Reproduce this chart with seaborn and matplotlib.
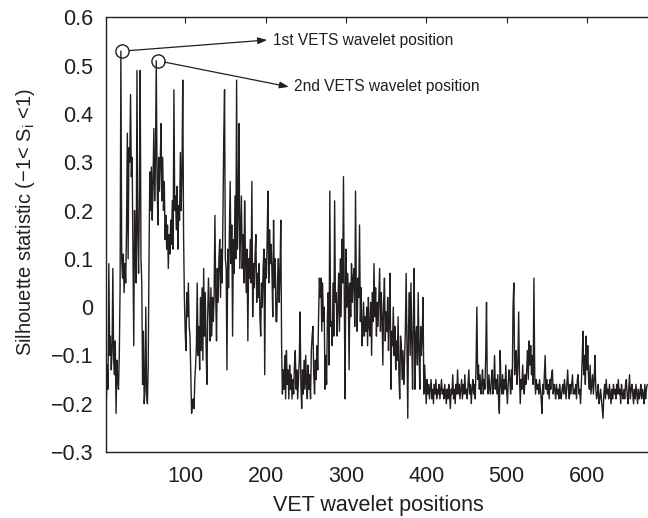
import matplotlib
matplotlib.use("Agg")
import matplotlib.pyplot as plt
import seaborn as sns
import numpy as np
import pandas as pd

# silhouette statistic per VET wavelet position (positions 1..675)
silhouette = [
    -0.15, -0.19, -0.12, -0.17, 0.09, -0.10, -0.06, -0.13, -0.09, 0.08, -0.11, -0.14, -0.07, -0.22, -0.11, -0.15, -0.17, -0.10, 0.04, 0.53, 0.10, 0.06, 0.11, 0.03, 0.09,
    0.05, 0.16, 0.36, 0.10, 0.33, 0.30, 0.44, 0.27, 0.31, 0.12, -0.08, 0.20, 0.11, 0.05, 0.49, 0.15, 0.07, 0.22, 0.49, 0.10, 0.05, -0.16, -0.05, -0.20, -0.17,
    0.00, -0.18, -0.20, -0.12, 0.10, 0.28, 0.20, 0.29, 0.18, 0.26, 0.37, 0.22, 0.30, 0.51, 0.27, 0.17, 0.31, 0.24, 0.30, 0.38, 0.22, 0.31, 0.20, 0.26, 0.14,
    0.19, 0.12, 0.17, 0.08, 0.15, 0.11, 0.18, 0.13, 0.22, 0.12, 0.45, 0.20, 0.23, 0.16, 0.25, 0.12, 0.21, 0.18, 0.32, 0.20, 0.28, 0.47, 0.15, 0.02, -0.05,
    -0.09, 0.03, -0.02, 0.05, -0.04, -0.06, -0.14, -0.22, -0.20, -0.19, -0.21, -0.15, -0.12, -0.08, 0.05, -0.10, -0.04, -0.13, 0.02, -0.09, 0.04, -0.11, 0.08, -0.06, 0.03,
    -0.08, -0.16, -0.02, 0.06, 0.00, -0.07, 0.04, -0.06, 0.02, -0.03, 0.02, 0.19, 0.03, -0.07, 0.08, 0.01, 0.10, 0.14, 0.02, 0.12, 0.05, 0.19, 0.35, 0.45, 0.10,
    0.08, -0.13, 0.12, 0.04, 0.15, 0.26, 0.09, 0.17, -0.06, 0.14, 0.07, 0.23, 0.10, 0.47, 0.12, 0.20, 0.38, 0.08, 0.16, 0.23, 0.08, 0.15, 0.05, 0.22, 0.11,
    0.03, 0.12, -0.07, 0.10, 0.06, 0.14, 0.05, 0.26, -0.02, 0.09, 0.04, 0.11, 0.15, 0.01, 0.07, 0.02, 0.09, -0.02, -0.06, 0.05, 0.00, 0.08, 0.12, -0.14, 0.10,
    0.06, 0.14, 0.24, 0.05, 0.16, 0.09, 0.13, 0.07, -0.02, 0.18, 0.04, 0.10, -0.03, -0.03, 0.06, 0.10, 0.01, 0.07, 0.18, -0.08, -0.18, -0.13, -0.17, -0.10, -0.19,
    -0.09, -0.16, -0.13, -0.19, -0.12, -0.17, -0.14, -0.19, -0.15, -0.18, -0.12, -0.09, -0.17, -0.13, -0.19, -0.15, -0.11, -0.01, -0.16, -0.21, -0.13, -0.18, -0.11, -0.17, -0.10,
    -0.16, -0.19, -0.12, -0.17, -0.14, -0.19, -0.09, -0.06, -0.04, -0.14, -0.18, -0.11, -0.15, -0.08, -0.13, -0.02, 0.06, 0.02, 0.06, -0.05, 0.05, -0.03, 0.00, -0.17, -0.10,
    -0.16, -0.02, 0.03, -0.12, 0.24, -0.04, -0.03, -0.08, 0.05, -0.06, 0.22, 0.01, 0.03, -0.06, 0.00, 0.07, -0.05, 0.10, -0.02, 0.14, 0.05, 0.27, 0.02, -0.19, 0.12,
    0.00, 0.07, 0.04, -0.13, 0.05, -0.02, 0.09, 0.01, 0.06, 0.08, -0.04, 0.24, 0.03, -0.05, 0.06, 0.02, 0.17, -0.03, 0.04, -0.08, -0.05, 0.01, -0.06, -0.02, -0.05,
    0.00, -0.08, 0.02, -0.04, -0.06, 0.01, -0.10, 0.03, -0.03, 0.09, -0.02, 0.04, -0.06, 0.01, -0.04, 0.02, 0.08, -0.05, 0.03, -0.02, -0.12, 0.01, 0.06, -0.07, -0.01,
    -0.05, 0.02, -0.09, -0.02, 0.07, -0.17, -0.05, -0.08, 0.00, -0.10, -0.04, -0.13, -0.07, -0.11, -0.02, -0.14, -0.19, -0.06, -0.08, -0.15, -0.09, -0.16, -0.11, -0.05, 0.07,
    -0.08, -0.23, -0.04, 0.03, -0.10, 0.05, -0.07, -0.17, -0.02, 0.08, -0.17, -0.06, -0.04, -0.12, 0.03, -0.09, -0.17, -0.04, -0.10, -0.06, 0.02, -0.18, -0.12, -0.16, -0.20,
    -0.15, -0.18, -0.16, -0.19, -0.17, -0.15, -0.19, -0.17, -0.20, -0.16, -0.18, -0.15, -0.19, -0.17, -0.18, -0.16, -0.19, -0.17, -0.15, -0.18, -0.17, -0.19, -0.16, -0.18, -0.20,
    -0.17, -0.19, -0.16, -0.18, -0.21, -0.17, -0.18, -0.14, -0.19, -0.17, -0.20, -0.16, -0.18, -0.13, -0.18, -0.16, -0.19, -0.17, -0.15, -0.19, -0.16, -0.18, -0.14, -0.18, -0.17,
    -0.19, -0.16, -0.13, -0.18, -0.16, -0.20, -0.17, -0.15, -0.18, -0.16, -0.19, -0.12, 0.00, -0.15, -0.12, -0.17, -0.14, -0.18, -0.16, -0.13, -0.18, -0.15, -0.17, -0.10, 0.01,
    -0.16, -0.18, -0.14, -0.17, -0.18, -0.15, -0.13, -0.18, -0.16, -0.10, -0.17, -0.15, -0.18, -0.14, -0.19, -0.22, -0.09, -0.16, -0.18, -0.14, -0.18, -0.15, -0.17, -0.12, -0.17,
    -0.20, -0.16, -0.13, -0.15, -0.18, -0.13, -0.17, 0.00, 0.05, -0.14, -0.11, -0.09, -0.16, -0.12, -0.01, -0.14, -0.20, -0.15, -0.17, -0.12, -0.16, -0.18, -0.14, -0.16, -0.13,
    -0.09, -0.15, -0.07, -0.12, -0.08, -0.14, -0.10, -0.16, 0.06, -0.14, -0.18, -0.15, -0.17, -0.16, -0.18, -0.15, -0.17, -0.19, -0.22, -0.16, -0.18, -0.14, -0.10, -0.17, -0.15,
    -0.18, -0.16, -0.19, -0.15, -0.17, -0.14, -0.13, -0.18, -0.16, -0.17, -0.19, -0.16, -0.18, -0.17, -0.19, -0.16, -0.18, -0.19, -0.17, -0.16, -0.18, -0.15, -0.17, -0.19, -0.16,
    -0.13, -0.17, -0.19, -0.16, -0.18, -0.16, -0.14, -0.18, -0.17, -0.18, -0.16, -0.19, -0.15, -0.14, -0.18, -0.17, -0.20, -0.16, -0.11, -0.05, -0.14, -0.10, -0.16, -0.06, -0.13,
    -0.08, -0.15, -0.17, -0.12, -0.18, -0.16, -0.14, -0.18, -0.15, -0.10, -0.17, -0.19, -0.18, -0.16, -0.20, -0.19, -0.17, -0.19, -0.21, -0.23, -0.18, -0.16, -0.19, -0.15, -0.18,
    -0.17, -0.19, -0.16, -0.18, -0.20, -0.17, -0.19, -0.16, -0.18, -0.17, -0.19, -0.16, -0.18, -0.15, -0.18, -0.17, -0.20, -0.16, -0.18, -0.19, -0.17, -0.19, -0.16, -0.15, -0.18,
    -0.20, -0.17, -0.14, -0.19, -0.17, -0.16, -0.18, -0.20, -0.17, -0.19, -0.16, -0.18, -0.20, -0.17, -0.19, -0.18, -0.16, -0.19, -0.17, -0.18, -0.20, -0.16, -0.19, -0.17, -0.16,
]
positions = list(range(1, len(silhouette) + 1))

# the two highlighted wavelet positions (x, value)
vets_peaks = [(20, 0.53), (64, 0.51)]
vets_labels = ["1st VETS wavelet position", "2nd VETS wavelet position"]
label_anchor = [(209, 0.553), (236, 0.456)]

xtick_values = [100, 200, 300, 400, 500, 600]
ytick_values = [-0.3, -0.2, -0.1, 0, 0.1, 0.2, 0.3, 0.4, 0.5, 0.6]
ytick_labels = ["\u22120.3", "\u22120.2", "\u22120.1", "0", "0.1", "0.2", "0.3", "0.4", "0.5", "0.6"]

ink = "#231f20"

sns.set_style("white")
plt.rcParams["font.family"] = ["Liberation Sans", "DejaVu Sans"]

fig = plt.figure(figsize=(6.48, 5.18), dpi=100)
ax = fig.add_axes([0.163, 0.1274, 0.842, 0.8392])

df = pd.DataFrame({"pos": positions, "sil": silhouette})
sns.lineplot(data=df, x="pos", y="sil", ax=ax, color=ink, linewidth=1.0, estimator=None)

for (px, py), text, (tx, ty) in zip(vets_peaks, vets_labels, label_anchor):
    ax.plot(px + 2, py, marker="o", markersize=9.5, markerfacecolor="none",
            markeredgecolor=ink, markeredgewidth=1.0)
    ax.annotate("", xy=(tx - 7, ty), xytext=(px + 2, py),
                arrowprops=dict(arrowstyle="-|>,head_length=0.55,head_width=0.2",
                                color=ink, lw=0.9, shrinkA=5, shrinkB=0))
    ax.text(tx, ty, text, fontsize=11.2, color=ink, va="center", ha="left")

ax.set_xlim(1, 680)
ax.set_ylim(-0.3, 0.6)
ax.set_xticks(xtick_values)
ax.set_yticks(ytick_values)
ax.set_yticklabels(ytick_labels)
ax.tick_params(direction="in", length=4, width=0.8, top=True, right=False,
               labelsize=15.5, colors=ink, pad=9)
ax.tick_params(axis="x", pad=10)

for side in ["left", "bottom", "top", "right"]:
    ax.spines[side].set_color(ink)
    ax.spines[side].set_linewidth(1.0)

ax.set_xlabel("VET wavelet positions", fontsize=15.5, color=ink, labelpad=6)
ax.set_ylabel("Silhouette statistic (\u22121< S$_{\\mathregular{i}}$ <1)", fontsize=14.5,
              color=ink, labelpad=9)
ax.yaxis.set_label_coords(-0.125, 0.53)

fig.savefig("out.png", dpi=100)
plt.close(fig)
